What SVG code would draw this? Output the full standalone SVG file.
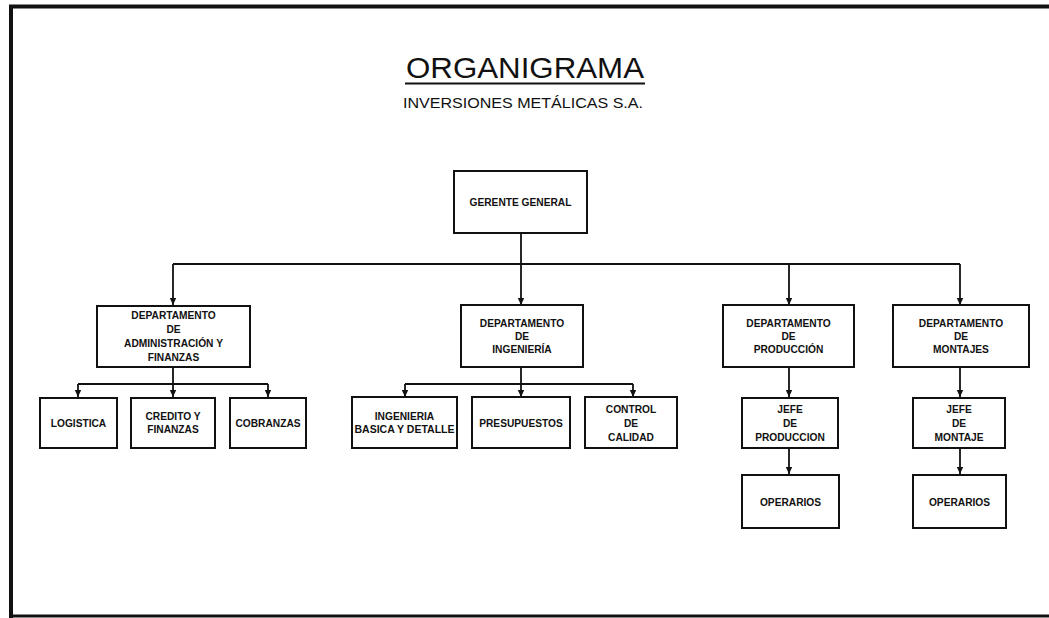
<svg xmlns="http://www.w3.org/2000/svg" width="1049" height="618" viewBox="0 0 1049 618">
<defs>
<marker id="arr" markerUnits="userSpaceOnUse" markerWidth="8" markerHeight="8" refX="7" refY="4" orient="auto">
<path d="M0,0.8 L7,4 L0,7.2 Z" fill="#111"/>
</marker>
<style>
.box{fill:#fff;stroke:#111;stroke-width:2}
.t{font-family:"Liberation Sans",Arial,sans-serif;font-size:10.2px;font-weight:bold;fill:#111;text-anchor:middle}
.c{fill:none;stroke:#111;stroke-width:1.8}
.a{fill:none;stroke:#111;stroke-width:1.8;marker-end:url(#arr)}
</style>
</defs>
<rect x="0" y="0" width="1049" height="618" fill="#fff"/>
<g id="frame" stroke="#111" fill="none">
<line x1="9" y1="6.5" x2="1049" y2="6.5" stroke-width="4"/>
<line x1="11" y1="5" x2="11" y2="618" stroke-width="4"/>
<line x1="9" y1="616" x2="1049" y2="616" stroke-width="3"/>
</g>
<g id="title">
<text x="525" y="78" font-family="'Liberation Sans',Arial,sans-serif" font-size="30" fill="#111" text-anchor="middle" textLength="238" lengthAdjust="spacingAndGlyphs">ORGANIGRAMA</text>
<line x1="405" y1="83.5" x2="645" y2="83.5" stroke="#111" stroke-width="2"/>
<text x="523" y="108" font-family="'Liberation Sans',Arial,sans-serif" font-size="15.5" fill="#111" text-anchor="middle" textLength="240" lengthAdjust="spacingAndGlyphs">INVERSIONES METÁLICAS S.A.</text>
</g>
<g id="connectors">
<path class="c" d="M521,233 V264 M173,264 H960"/>
<path class="a" d="M173,264 V305"/>
<path class="a" d="M521,264 V305"/>
<path class="a" d="M789,264 V305"/>
<path class="a" d="M960,264 V305"/>
<path class="c" d="M173,367 V384 M78,384 H268"/>
<path class="a" d="M78,384 V397"/>
<path class="a" d="M173,384 V397"/>
<path class="a" d="M268,384 V397"/>
<path class="c" d="M521,367 V384 M405,384 H633"/>
<path class="a" d="M405,384 V397"/>
<path class="a" d="M521,384 V397"/>
<path class="a" d="M633,384 V397"/>
<path class="a" d="M789,367 V397"/>
<path class="a" d="M789,448 V474"/>
<path class="a" d="M960,367 V397"/>
<path class="a" d="M960,448 V474"/>
</g>
<g id="gerente">
<rect class="box" x="454" y="171" width="133" height="62"/>
<text class="t" x="520.5" y="206">GERENTE GENERAL</text>
</g>
<g id="dep-admin">
<rect class="box" x="97" y="306" width="153" height="61"/>
<text class="t" x="173.5" y="319">DEPARTAMENTO</text>
<text class="t" x="173.5" y="333">DE</text>
<text class="t" x="173.5" y="347">ADMINISTRACIÓN Y</text>
<text class="t" x="173.5" y="361">FINANZAS</text>
</g>
<g id="dep-ing">
<rect class="box" x="461" y="305" width="122" height="62"/>
<text class="t" x="522" y="327">DEPARTAMENTO</text>
<text class="t" x="522" y="340">DE</text>
<text class="t" x="522" y="353">INGENIERÍA</text>
</g>
<g id="dep-prod">
<rect class="box" x="723" y="305" width="131" height="62"/>
<text class="t" x="788.5" y="327">DEPARTAMENTO</text>
<text class="t" x="788.5" y="340">DE</text>
<text class="t" x="788.5" y="353">PRODUCCIÓN</text>
</g>
<g id="dep-mont">
<rect class="box" x="893" y="305" width="136" height="62"/>
<text class="t" x="961" y="327">DEPARTAMENTO</text>
<text class="t" x="961" y="340">DE</text>
<text class="t" x="961" y="353">MONTAJES</text>
</g>
<g id="logistica">
<rect class="box" x="40" y="398" width="77" height="50"/>
<text class="t" x="78.5" y="427">LOGISTICA</text>
</g>
<g id="credito">
<rect class="box" x="131" y="398" width="84" height="50"/>
<text class="t" x="173" y="419.5">CREDITO Y</text>
<text class="t" x="173" y="432.5">FINANZAS</text>
</g>
<g id="cobranzas">
<rect class="box" x="230" y="398" width="76" height="50"/>
<text class="t" x="268" y="427">COBRANZAS</text>
</g>
<g id="ing-basica">
<rect class="box" x="352" y="397" width="105" height="51"/>
<text class="t" x="404.5" y="419.5">INGENIERIA</text>
<text class="t" x="404.5" y="432.5" textLength="100" lengthAdjust="spacingAndGlyphs">BASICA Y DETALLE</text>
</g>
<g id="presupuestos">
<rect class="box" x="472" y="397" width="98" height="51"/>
<text class="t" x="521" y="427">PRESUPUESTOS</text>
</g>
<g id="control">
<rect class="box" x="585" y="397" width="92" height="51"/>
<text class="t" x="631" y="413">CONTROL</text>
<text class="t" x="631" y="427">DE</text>
<text class="t" x="631" y="441">CALIDAD</text>
</g>
<g id="jefe-prod">
<rect class="box" x="742" y="398" width="96" height="50"/>
<text class="t" x="790" y="413">JEFE</text>
<text class="t" x="790" y="427">DE</text>
<text class="t" x="790" y="441">PRODUCCION</text>
</g>
<g id="oper-prod">
<rect class="box" x="742" y="475" width="97" height="53"/>
<text class="t" x="790.5" y="505.5">OPERARIOS</text>
</g>
<g id="jefe-mont">
<rect class="box" x="913" y="398" width="92" height="50"/>
<text class="t" x="959" y="413">JEFE</text>
<text class="t" x="959" y="427">DE</text>
<text class="t" x="959" y="441">MONTAJE</text>
</g>
<g id="oper-mont">
<rect class="box" x="913" y="475" width="93" height="53"/>
<text class="t" x="959.5" y="505.5">OPERARIOS</text>
</g>
</svg>
